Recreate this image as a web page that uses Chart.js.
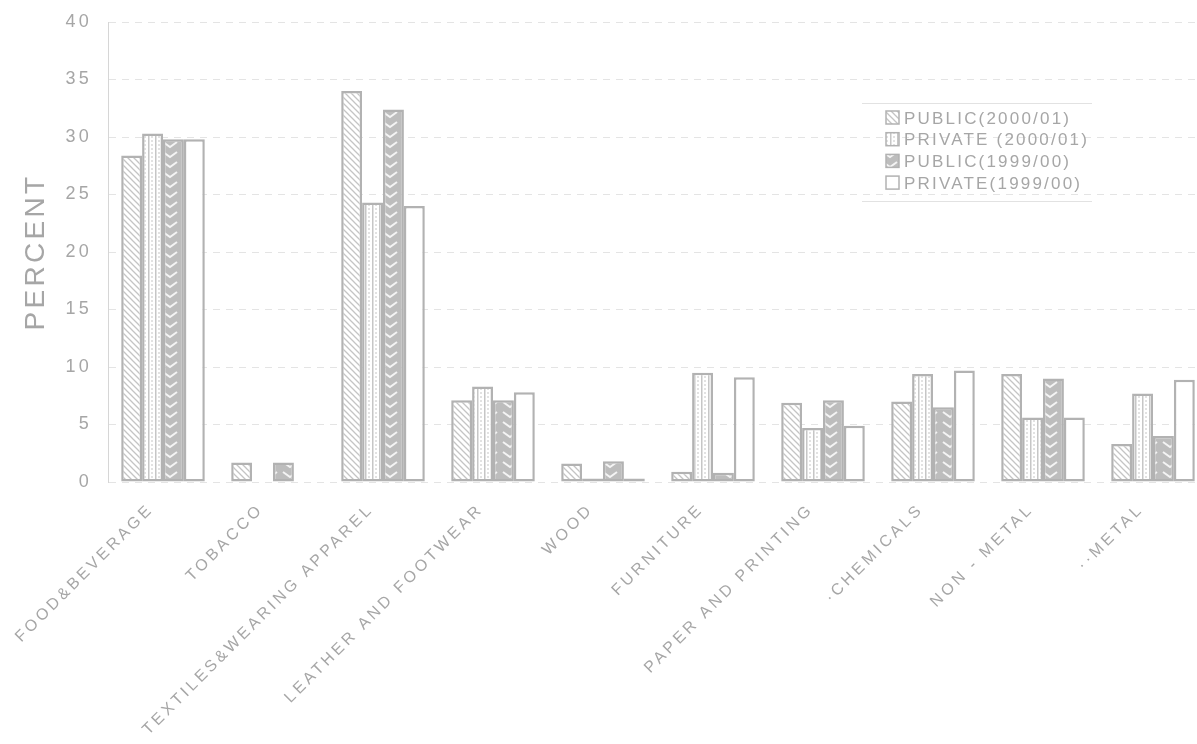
<!DOCTYPE html>
<html>
<head>
<title>Industrial output share by sector</title>
<script src="https://cdn.jsdelivr.net/npm/chart.js"></script>
<style>
  html, body { margin: 0; padding: 0; background: #fff; overflow: hidden; }
  .chart-container { position: relative; width: 1215px; height: 744px; }
</style>
</head>
<body>
<div class="chart-container">
  <canvas id="sectorChart"></canvas>
</div>
<script>
// values (percent)
var sectors = ['FOOD&BEVERAGE', 'TOBACCO', 'TEXTILES&WEARING APPAREL', 'LEATHER AND FOOTWEAR', 'WOOD',
               'FURNITURE', 'PAPER AND PRINTING', '\u00b7CHEMICALS', 'NON - METAL', '\u00b7\u00b7METAL'];
var public2000  = [28.4, 1.7, 34.0, 7.1, 1.6, 0.9, 6.9, 7.0, 9.4, 3.3];
var private2000 = [30.3, 0,   24.3, 8.3, 0.3, 9.5, 4.7, 9.4, 5.6, 7.7];
var public1999  = [29.8, 1.7, 32.4, 7.1, 1.8, 0.8, 7.1, 6.5, 9.0, 4.0];
var private1999 = [29.8, 0,   24.0, 7.8, 0.3, 9.1, 4.9, 9.7, 5.6, 8.9];
var seriesNames = ['PUBLIC(2000/01)', 'PRIVATE (2000/01)', 'PUBLIC(1999/00)', 'PRIVATE(1999/00)'];
var yMin = 0, yMax = 40, yStep = 5;

var FONT = '"Liberation Sans", Arial, sans-serif';
var GREY_TEXT = '#a6a6a6';
var BAR_EDGE = '#b2b2b2';

function makePattern(kind) {
    var c = document.createElement('canvas');
    var g = c.getContext('2d');
    if (kind === 'diagonal') {
        c.width = 6; c.height = 6;
        g.fillStyle = '#fff'; g.fillRect(0, 0, 6, 6);
        g.strokeStyle = '#c4c4c4'; g.lineWidth = 1.3;
        g.beginPath();
        g.moveTo(-1, -1); g.lineTo(7, 7);
        g.moveTo(-1, 5); g.lineTo(1, 7);
        g.moveTo(5, -1); g.lineTo(7, 1);
        g.stroke();
    } else if (kind === 'stripes') {
        c.width = 7; c.height = 4;
        g.fillStyle = '#fff'; g.fillRect(0, 0, 7, 4);
        g.fillStyle = '#c6c6c6';
        g.fillRect(1, 0, 1.5, 4);
        g.fillRect(4.5, 0, 1, 2);
    } else if (kind === 'chevron') {
        c.width = 20; c.height = 10;
        g.fillStyle = '#bdbdbd'; g.fillRect(0, 0, 20, 10);
        g.strokeStyle = '#f4f4f4'; g.lineWidth = 2;
        g.beginPath();
        g.moveTo(3, 2); g.lineTo(10, 7); g.lineTo(17, 2);
        g.stroke();
    } else {
        c.width = 2; c.height = 2;
        g.fillStyle = '#fff'; g.fillRect(0, 0, 2, 2);
    }
    return g.createPattern(c, 'repeat');
}

var fills = [makePattern('diagonal'), makePattern('stripes'), makePattern('chevron'), makePattern('plain')];
var seriesValues = [public2000, private2000, public1999, private1999];

// the scan's text is widely spaced, so apply letter spacing to all chart text
var spacedText = {
    id: 'spacedText',
    beforeUpdate: function(chart) { chart.ctx.letterSpacing = '3.3px'; },
    beforeDraw: function(chart) { chart.ctx.letterSpacing = '3.3px'; }
};

// legend box in the upper right of the plot, with rule lines above and below
var boxLegend = {
    id: 'boxLegend',
    afterDraw: function(chart) {
        var ctx = chart.ctx;
        ctx.save();
        ctx.strokeStyle = '#e2e2e2';
        ctx.lineWidth = 1;
        ctx.beginPath();
        ctx.moveTo(862, 103.5); ctx.lineTo(1092, 103.5);
        ctx.moveTo(862, 201.5); ctx.lineTo(1092, 201.5);
        ctx.stroke();
        ctx.font = '17px ' + FONT;
        ctx.letterSpacing = '2.2px';
        ctx.textBaseline = 'middle';
        chart.data.datasets.forEach(function(ds, i) {
            var rowY = 118 + i * 21.7;
            ctx.fillStyle = ds.backgroundColor;
            ctx.fillRect(886, rowY - 7, 13, 13);
            ctx.strokeStyle = BAR_EDGE;
            ctx.lineWidth = 1.5;
            ctx.strokeRect(886, rowY - 7, 13, 13);
            ctx.fillStyle = GREY_TEXT;
            ctx.fillText(ds.label, 904, rowY + 1);
        });
        ctx.restore();
    }
};

var ctx = document.getElementById('sectorChart').getContext('2d');
var sectorChart = new Chart(ctx, {
    type: 'bar',
    data: {
        labels: sectors,
        datasets: seriesNames.map(function(name, i) {
            return {
                label: name,
                data: seriesValues[i],
                backgroundColor: fills[i],
                borderColor: BAR_EDGE,
                borderWidth: 2.5,
                borderSkipped: false,
                categoryPercentage: 0.76,
                barPercentage: 1.0
            };
        })
    },
    options: {
        responsive: true,
        maintainAspectRatio: false,
        animation: false,
        layout: { padding: { top: 22, right: 7, bottom: 0, left: 0 } },
        plugins: {
            legend: { display: false },
            tooltip: { enabled: false }
        },
        scales: {
            x: {
                grid: { display: false, drawTicks: false },
                border: { display: false },
                ticks: {
                    autoSkip: false,
                    minRotation: 45,
                    maxRotation: 45,
                    padding: 18,
                    labelOffset: -12,
                    color: GREY_TEXT,
                    font: { family: FONT, size: 16 }
                },
                afterFit: function(scale) {
                    // keep the long first label from pushing the plot to the right
                    scale.paddingLeft = 0;
                    scale.paddingRight = 0;
                    scale.height = 262;
                }
            },
            y: {
                min: yMin,
                max: yMax,
                grid: { color: '#e4e4e4', lineWidth: 1, drawTicks: false },
                border: { display: true, color: '#d6d6d6', width: 1, dash: [7, 6] },
                ticks: {
                    stepSize: yStep,
                    padding: 16,
                    color: GREY_TEXT,
                    font: { family: FONT, size: 18 }
                },
                title: {
                    display: true,
                    text: 'PERCENT',
                    color: GREY_TEXT,
                    padding: { top: 19, bottom: 12.5 },
                    font: { family: FONT, size: 28 }
                },
                afterFit: function(scale) {
                    scale.paddingTop = 0;
                    scale.paddingBottom = 0;
                    scale.width = 108;
                }
            }
        }
    },
    plugins: [spacedText, boxLegend]
});
</script>
</body>
</html>
